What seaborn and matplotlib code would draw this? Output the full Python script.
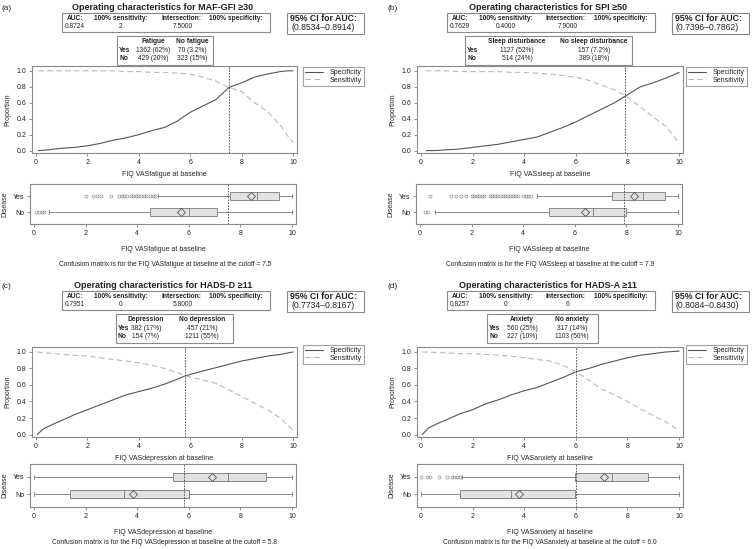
import matplotlib
matplotlib.use("Agg")
import matplotlib.pyplot as plt
from matplotlib.patches import Rectangle
import seaborn as sns
import pandas as pd

W, H = 753, 549

# ── Data ───────────────────────────────────────────────────────────────────
# (a) MAF-GFI >=30, FIQ VAS fatigue
x_a    = [0.1, 0.5, 1, 1.5, 2, 2.5, 3, 3.5, 4, 4.5, 5, 5.5, 6, 6.5, 7, 7.5, 8, 8.5, 9, 9.5, 9.8, 10]
spec_a = [0.00, 0.01, 0.03, 0.04, 0.06, 0.09, 0.13, 0.16, 0.20, 0.25, 0.29, 0.37, 0.48, 0.56, 0.64, 0.79, 0.85, 0.92, 0.96, 0.99, 1.00, 1.00]
sens_a = [1.00, 1.00, 1.00, 1.00, 1.00, 1.00, 1.00, 0.99, 0.99, 0.98, 0.98, 0.97, 0.96, 0.92, 0.87, 0.79, 0.74, 0.60, 0.49, 0.32, 0.18, 0.10]

# (b) SPI >=50, FIQ VAS sleep
x_b    = [0.2, 0.5, 1, 1.5, 2, 2.5, 3, 3.5, 4, 4.5, 5, 5.5, 6, 6.5, 7, 7.5, 7.9, 8.5, 9, 9.5, 9.8, 10]
spec_b = [0.00, 0.00, 0.01, 0.02, 0.04, 0.06, 0.08, 0.11, 0.14, 0.17, 0.23, 0.29, 0.36, 0.44, 0.52, 0.60, 0.68, 0.80, 0.85, 0.91, 0.95, 0.98]
sens_b = [1.00, 1.00, 1.00, 0.99, 0.99, 0.99, 0.99, 0.98, 0.98, 0.97, 0.96, 0.94, 0.92, 0.88, 0.82, 0.76, 0.69, 0.55, 0.42, 0.30, 0.18, 0.08]

# (c) HADS-D >=11, FIQ VAS depression
x_c    = [0.05, 0.3, 0.7, 1, 1.5, 2, 2.5, 3, 3.5, 4, 4.5, 5, 5.5, 5.8, 6.5, 7, 7.5, 8, 8.5, 9, 9.5, 10]
spec_c = [0.00, 0.07, 0.13, 0.17, 0.24, 0.30, 0.36, 0.42, 0.48, 0.52, 0.56, 0.61, 0.67, 0.71, 0.77, 0.81, 0.85, 0.89, 0.92, 0.95, 0.97, 1.00]
sens_c = [1.00, 0.99, 0.98, 0.97, 0.96, 0.95, 0.93, 0.91, 0.89, 0.87, 0.84, 0.80, 0.75, 0.71, 0.66, 0.62, 0.54, 0.46, 0.38, 0.30, 0.20, 0.05]

# (d) HADS-A >=11, FIQ VAS anxiety
x_d    = [0.05, 0.3, 0.7, 1, 1.5, 2, 2.5, 3, 3.5, 4, 4.5, 5, 5.5, 6, 6.5, 7, 7.5, 8, 8.5, 9, 9.5, 10]
spec_d = [0.00, 0.08, 0.14, 0.18, 0.25, 0.30, 0.37, 0.42, 0.48, 0.53, 0.57, 0.63, 0.69, 0.76, 0.80, 0.85, 0.89, 0.93, 0.96, 0.98, 1.00, 1.01]
sens_d = [1.00, 1.00, 0.99, 0.99, 0.98, 0.98, 0.97, 0.96, 0.95, 0.93, 0.91, 0.89, 0.84, 0.76, 0.66, 0.55, 0.48, 0.40, 0.31, 0.23, 0.15, 0.05]

# box stats: [whislo, q1, median, q3, whishi, mean]
box_a_yes = [4.8, 7.6, 8.65, 9.5, 10.0, 8.4]
box_a_no  = [0.6, 4.5, 6.0, 7.1, 10.0, 5.7]
fly_a_yes = [2.0, 2.3, 2.45, 2.6, 3.0, 3.3, 3.4, 3.5, 3.6, 3.75, 3.85, 3.95, 4.05, 4.15, 4.25, 4.35, 4.5, 4.6, 4.7]
fly_a_no  = [0.1, 0.2, 0.3, 0.4]

box_b_yes = [4.55, 7.45, 8.65, 9.5, 10.0, 8.3]
box_b_no  = [0.6, 5.0, 6.7, 8.0, 10.0, 6.4]
fly_b_yes = [0.4, 1.2, 1.4, 1.6, 1.8, 2.0, 2.1, 2.2, 2.3, 2.4, 2.5, 2.7, 2.8, 2.9, 3.0,
             3.1, 3.2, 3.3, 3.4, 3.5, 3.6, 3.7, 3.8, 4.0, 4.1, 4.2, 4.3]
fly_b_no  = [0.2, 0.3]

box_c_yes = [0.0, 5.4, 7.5, 9.0, 10.0, 6.9]
box_c_no  = [0.0, 1.4, 3.5, 6.0, 10.0, 3.85]
fly_c_yes = []
fly_c_no  = []

box_d_yes = [1.6, 5.95, 7.4, 8.8, 10.0, 7.1]
box_d_no  = [0.0, 1.5, 3.5, 5.95, 10.0, 3.8]
fly_d_yes = [0.0, 0.25, 0.35, 0.7, 1.0, 1.2, 1.3, 1.4, 1.5]
fly_d_no  = []

letters   = ["(a)", "(b)", "(c)", "(d)"]
outcomes  = ["MAF-GFI \u226530", "SPI \u226550", "HADS-D \u226511", "HADS-A \u226511"]
variables = ["FIQ VASfatigue at baseline", "FIQ VASsleep at baseline",
             "FIQ VASdepression at baseline", "FIQ VASanxiety at baseline"]
cutoffs   = [7.5, 7.9, 5.8, 6.0]
auc_vals  = ["0.8724", "0.7629", "0.7951", "0.8257"]
sens100   = ["2", "0.4000", "0", "0"]
intersect = ["7.5000", "7.9000", "5.8000", "6"]
ci_text   = ["(0.8534\u20130.8914)", "(0.7396\u20130.7862)", "(0.7734\u20130.8167)", "(0.8084\u20130.8430)"]
col_heads = [("Fatigue", "No fatigue"), ("Sleep disturbance", "No sleep disturbance"),
             ("Depression", "No depression"), ("Anxiety", "No anxiety")]
cm_yes    = [("1362 (62%)", "70 (3.2%)"), ("1127 (52%)", "157 (7.2%)"),
             ("382 (17%)", "457 (21%)"), ("560 (25%)", "317 (14%)")]
cm_no     = [("429 (20%)", "323 (15%)"), ("514 (24%)", "389 (18%)"),
             ("154 (7%)", "1211 (55%)"), ("227 (10%)", "1103 (50%)")]

curves = [(x_a, spec_a, sens_a), (x_b, spec_b, sens_b), (x_c, spec_c, sens_c), (x_d, spec_d, sens_d)]
boxes  = [(box_a_yes, box_a_no, fly_a_yes, fly_a_no), (box_b_yes, box_b_no, fly_b_yes, fly_b_no),
          (box_c_yes, box_c_no, fly_c_yes, fly_c_no), (box_d_yes, box_d_no, fly_d_yes, fly_d_no)]

# ── Layout (pixels) ────────────────────────────────────────────────────────
line_rects = [(32, 66, 297, 153), (417, 66, 683, 153), (32, 347, 297, 437), (417, 347, 683, 437)]
box_rects  = [(30, 184, 296, 224), (416, 184, 682, 224), (30, 464, 296, 507), (417, 464, 683, 507)]
col_dx = [0, 385, 0, 385]
row_dy = [0, 0, 278, 278]
legend_x = [303, 686, 303, 686]
table_pos = [(117, 213, 153, 192), (465, 632, 517, 594), (116, 233, 146, 202), (487, 598, 522, 572)]
caption_y = [264, 264, 543, 543]

TXT = "#222222"
GRID = "#8a8a8a"
C_SPEC, C_SENS = "#555555", "#b8b8b8"

sns.set_theme(style="ticks")
plt.rcParams["font.family"] = ["Liberation Sans", "DejaVu Sans"]
plt.rcParams["text.color"] = TXT

fig = plt.figure(figsize=(W / 100, H / 100), dpi=100)


def fx(x):
    return x / W


def fy(y):
    return 1 - y / H


def rect(l, t, r, b):
    return [l / W, 1 - b / H, (r - l) / W, (b - t) / H]


def frame(l, t, r, b):
    fig.add_artist(Rectangle((fx(l), fy(b)), (r - l) / W, (b - t) / H,
                             transform=fig.transFigure, fill=False,
                             edgecolor=GRID, lw=0.8))


def style_axes(ax):
    for s in ax.spines.values():
        s.set_color(GRID)
        s.set_linewidth(0.8)
    ax.tick_params(labelsize=5, length=2.5, width=0.5, color="#666666", pad=1.5, labelcolor=TXT)


for i in range(4):
    dx, dy = col_dx[i], row_dy[i]
    xs, spec, sens = curves[i]
    cut = cutoffs[i]

    # header: letter, title, AUC box, CI box, confusion table
    fig.text(fx(2 + dx), fy(8 + dy), letters[i], fontsize=6, va="center")
    fig.text(fx(163 + dx), fy(7 + dy), "Operating characteristics for " + outcomes[i],
             fontsize=6.5, fontweight="bold", ha="center", va="center")

    bl = 62 + dx
    frame(bl, 13 + dy, bl + 208, 32 + dy)
    for off, lab in zip([13, 59, 119, 174],
                        ["AUC:", "100% sensitivity:", "Intersection:", "100% specificity:"]):
        fig.text(fx(bl + off), fy(18 + dy), lab, fontsize=4.8, fontweight="bold",
                 ha="center", va="center")
    for off, val in zip([13, 59, 121], [auc_vals[i], sens100[i], intersect[i]]):
        fig.text(fx(bl + off), fy(26 + dy), val, fontsize=4.8, ha="center", va="center")

    frame(287 + dx, 13 + dy, 364 + dx, 34 + dy)
    fig.text(fx(290 + dx), fy(18.5 + dy), "95% CI for AUC:", fontsize=6.3,
             fontweight="bold", va="center")
    fig.text(fx(291 + dx), fy(28 + dy), ci_text[i], fontsize=6.2, va="center")

    tl, tr, c1, c2 = table_pos[i]
    frame(tl, 36 + dy, tr, 65 + dy)
    fig.text(fx(c1), fy(41.5 + dy), col_heads[i][0], fontsize=4.8, fontweight="bold", ha="center", va="center")
    fig.text(fx(c2), fy(41.5 + dy), col_heads[i][1], fontsize=4.8, fontweight="bold", ha="center", va="center")
    for ry, lab, vals in [(50, "Yes", cm_yes[i]), (58, "No", cm_no[i])]:
        fig.text(fx(tl + 2), fy(ry + dy), lab, fontsize=4.8, fontweight="bold", va="center")
        fig.text(fx(c1), fy(ry + dy), vals[0], fontsize=4.8, ha="center", va="center")
        fig.text(fx(c2), fy(ry + dy), vals[1], fontsize=4.8, ha="center", va="center")

    # operating characteristic curves
    ax = fig.add_axes(rect(*line_rects[i]))
    df = pd.DataFrame({"x": xs, "Specificity": spec, "Sensitivity": sens})
    sns.lineplot(data=df, x="x", y="Specificity", color=C_SPEC, lw=0.8, ax=ax, label="Specificity")
    sns.lineplot(data=df, x="x", y="Sensitivity", color=C_SENS, lw=0.8, ls=(0, (5, 3)), ax=ax,
                 label="Sensitivity")
    ax.axvline(cut, color="#444444", lw=0.6, ls=(0, (2, 1.5)))
    ax.set_xlim(-0.15, 10.15)
    ax.set_ylim(-0.03, 1.06)
    ax.set_xticks(range(0, 11, 2))
    ax.set_yticks([0, 0.2, 0.4, 0.6, 0.8, 1.0])
    ax.set_yticklabels(["0.0", "0.2", "0.4", "0.6", "0.8", "1.0"])
    ax.set_xlabel(variables[i], fontsize=5, labelpad=4)
    ax.set_ylabel("Proportion", fontsize=5, labelpad=4)
    style_axes(ax)
    ax.legend(loc="upper left", bbox_to_anchor=(fx(legend_x[i]), fy(67 + dy)),
              bbox_transform=fig.transFigure, frameon=True, fancybox=False,
              edgecolor=GRID, fontsize=5, handlelength=2.6, borderpad=0.3,
              labelspacing=0.1, borderaxespad=0, handletextpad=0.9)
    ax.get_legend().get_frame().set_linewidth(0.8)

    # box plots
    ax2 = fig.add_axes(rect(*box_rects[i]))
    yes, no, fy_yes, fy_no = boxes[i]
    stats = []
    for b, fl in [(yes, fy_yes), (no, fy_no)]:
        stats.append(dict(whislo=b[0], q1=b[1], med=b[2], q3=b[3], whishi=b[4], mean=b[5], fliers=fl))
    ax2.bxp(stats, positions=[1, 0], widths=0.5, orientation="horizontal",
            showmeans=True, patch_artist=True, manage_ticks=False, capwidths=0.2,
            boxprops=dict(facecolor="#e2e2e2", edgecolor="#777777", lw=0.6),
            medianprops=dict(color="#777777", lw=0.6),
            whiskerprops=dict(color="#777777", lw=0.6),
            capprops=dict(color="#777777", lw=0.6),
            flierprops=dict(marker="o", markersize=2.2, markerfacecolor="none",
                            markeredgecolor="#777777", markeredgewidth=0.4),
            meanprops=dict(marker="D", markersize=4.5, markerfacecolor="none",
                           markeredgecolor="#555555", markeredgewidth=0.6))
    ax2.axvline(cut, color="#444444", lw=0.6, ls=(0, (2, 1.5)))
    ax2.set_xlim(-0.15, 10.15)
    ax2.set_ylim(-0.75, 1.75)
    ax2.set_xticks(range(0, 11, 2))
    ax2.set_yticks([1, 0])
    ax2.set_yticklabels(["Yes", "No"])
    ax2.set_xlabel(variables[i], fontsize=5, labelpad=7)
    ax2.set_ylabel("Disease", fontsize=5, labelpad=3)
    style_axes(ax2)

    fig.text(fx(165 + dx), fy(caption_y[i]),
             "Confusion matrix is for the " + variables[i] + " at the cutoff = %.1f" % cut,
             fontsize=4.8, ha="center", va="center")

fig.savefig("out.png", dpi=100)
